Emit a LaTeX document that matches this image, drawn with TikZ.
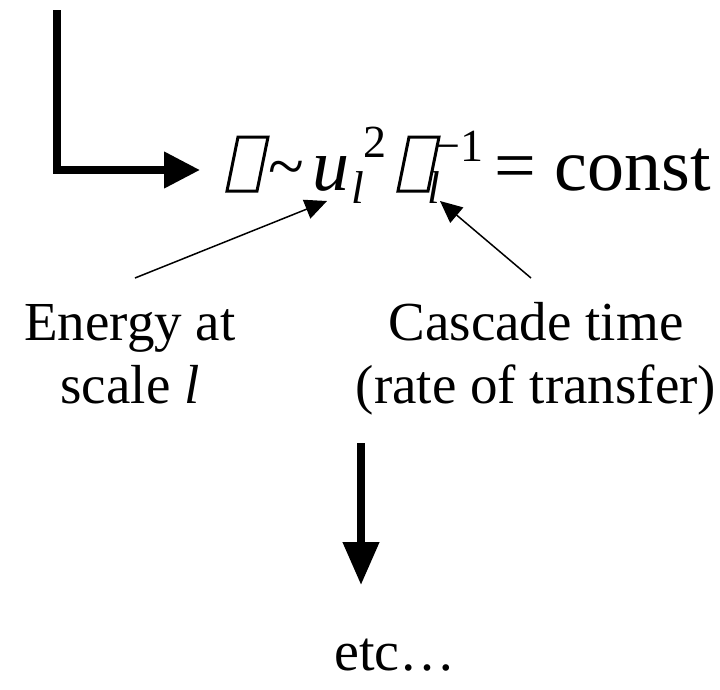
\documentclass[tikz,border=0pt]{standalone}
\usepackage{fontspec}
\setmainfont{Liberation Serif}
\usetikzlibrary{arrows.meta}
\begin{document}
\begin{tikzpicture}[x=1pt,y=-1pt,
  eq/.style={inner sep=0pt, anchor=base west, font=\fontsize{74}{80}\selectfont},
  scr/.style={inner sep=0pt, anchor=base west, font=\fontsize{46}{50}\selectfont},
  lbl/.style={inner sep=0pt, anchor=base, font=\fontsize{55}{63}\selectfont},
  bigarrow/.style={line width=7.5pt, line join=miter, -{Triangle[length=36pt,width=35pt]}},
  downarrow/.style={line width=7.5pt, -{Triangle[length=43pt,width=35pt]}},
  thinarrow/.style={line width=1.5pt, -{Triangle[length=22pt,width=20pt]}},
  glyphbox/.style={line width=3pt, line join=miter}]
\useasboundingbox (0,0) rectangle (720,689);
% main bent arrow
\coordinate (top) at (57,10);
\coordinate (eqin) at (200,170);
\draw[bigarrow] (top) |- (eqin);
% equation
\draw[glyphbox] (238,137) -- (268,137) -- (257,191) -- (227,191) -- cycle;
\node[eq, font=\fontsize{66}{70}\selectfont] (tilde) at (268,188) {\textasciitilde};
\node[eq] (u) at (312,190) {\textit{u}};
\node[scr] (ul) at (351,203) {\textit{l}};
\node[scr] (u2) at (363,157) {2};
\draw[glyphbox] (409,137) -- (439,137) -- (428,191) -- (398,191) -- cycle;
\node[scr] (taul) at (427,203) {\textit{l}};
\node[scr] (tauexp) at (434,161) {\textminus1};
\node[eq] (const) at (494,190) {= const};
% labels
\node[lbl] (en1) at (130,340) {Energy at};
\node[lbl] (en2) at (130,403) {scale \textit{l}};
\node[lbl] (ca1) at (536,340) {Cascade time};
\node[lbl] (ca2) at (536,403) {(rate of transfer)};
% thin arrows
\coordinate (s1) at (135,278);
\coordinate (t1) at (327,201);
\coordinate (s2) at (531,278);
\coordinate (t2) at (440,201);
\draw[thinarrow] (s1) -- (t1);
\draw[thinarrow] (s2) -- (t2);
% down arrow
\coordinate (d1) at (361,443);
\coordinate (d2) at (361,585);
\draw[downarrow] (d1) -- (d2);
\node[eq, font=\fontsize{56}{63}\selectfont] (etc) at (334,670) {etc…};
\end{tikzpicture}
\end{document}
